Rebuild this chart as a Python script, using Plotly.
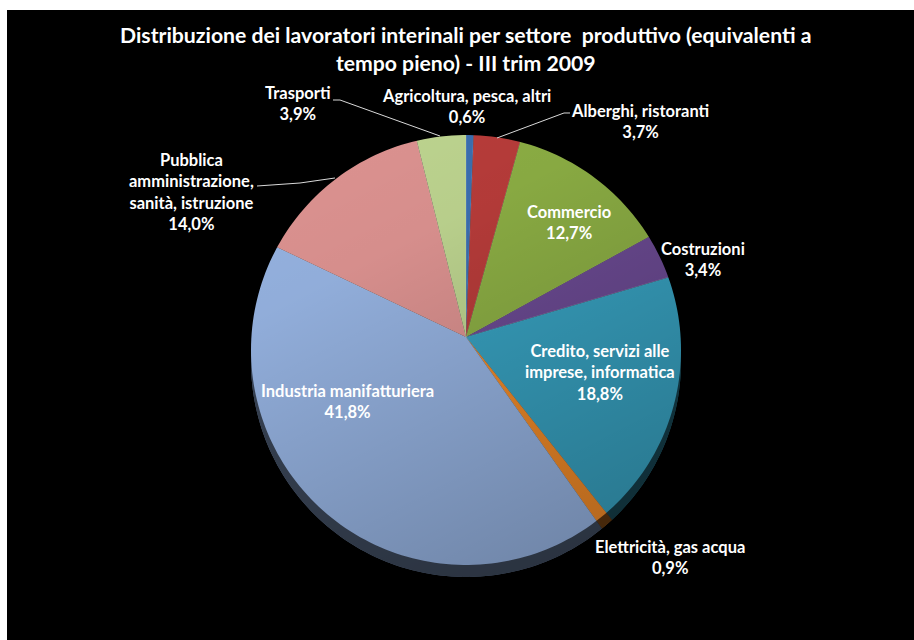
import base64
import numpy as np
import plotly.graph_objects as go

W, H = 914, 640

title_text = "Distribuzione dei lavoratori interinali per settore  produttivo (equivalenti a<br>tempo pieno) - III trim 2009"
categories = ["Agricoltura, pesca, altri", "Alberghi, ristoranti", "Commercio", "Costruzioni",
              "Credito, servizi alle imprese, informatica", "Elettricità, gas acqua",
              "Industria manifatturiera", "Pubblica amministrazione, sanità, istruzione", "Trasporti"]
values = [0.6, 3.7, 12.7, 3.4, 18.8, 0.9, 41.8, 14.0, 3.9]
value_labels = ["0,6%", "3,7%", "12,7%", "3,4%", "18,8%", "0,9%", "41,8%", "14,0%", "3,9%"]
label_lines = ["Agricoltura, pesca, altri", "Alberghi, ristoranti", "Commercio", "Costruzioni",
               "Credito, servizi alle<br>imprese, informatica", "Elettricità, gas acqua",
               "Industria manifatturiera", "Pubblica<br>amministrazione,<br>sanità, istruzione", "Trasporti"]
top_colors = ["#3b6fb0", "#b83c3a", "#8cae44", "#6b4a92", "#37a0bf", "#f08a28", "#95b2e0", "#dc9290", "#bdd48f"]

# label centres in pixels
label_px = [(467, 106), (640, 121), (569, 222), (703, 259), (600, 372), (670, 557), (347, 401), (191, 192), (298, 104)]
leaders = [[(570, 113), (564, 113), (497, 138)],
           [(257, 186), (300, 183), (335, 178)],
           [(333, 100), (340, 100), (440, 136)]]

# The pie's apex sits above the centre of the tilted disc outline (3D perspective)
apex_x, apex_y, pie_r = 466, 337, 241
cx, cy, r, depth = 466, 350, 215, 12


def px(x, y):
    return x / W, 1 - y / H


def arc(cx_, cy_, a0, a1, n=120):
    t = np.radians(np.linspace(a0, a1, n))
    return [px(cx_ + r * np.cos(a), cy_ + r * np.sin(a)) for a in t]


def path(pts):
    return "M" + " L".join(f"{x:.5f},{y:.5f}" for x, y in pts) + " Z"


fig = go.Figure()
fig.add_trace(go.Pie(values=values, labels=categories, sort=False, direction="clockwise", rotation=0,
                     textinfo="none", hoverinfo="label+percent", showlegend=False,
                     domain=dict(x=[(apex_x - pie_r) / W, (apex_x + pie_r) / W],
                                 y=[1 - (apex_y + pie_r) / H, 1 - (apex_y - pie_r) / H]),
                     marker=dict(colors=top_colors, line=dict(color="rgba(255,255,255,0.25)", width=0.4))))

# soft diagonal shading over the disc
svg = ('<svg xmlns="http://www.w3.org/2000/svg" width="100" height="100" preserveAspectRatio="none">'
       '<defs><linearGradient id="g" x1="0.1" y1="0" x2="0.6" y2="1">'
       '<stop offset="0" stop-color="#000" stop-opacity="0"/>'
       '<stop offset="0.3" stop-color="#000" stop-opacity="0.03"/>'
       '<stop offset="1" stop-color="#000" stop-opacity="0.24"/>'
       '</linearGradient></defs><rect width="100" height="100" fill="url(#g)"/></svg>')
ix, iy = px(cx - r, cy - r)
fig.add_layout_image(source="data:image/svg+xml;base64," + base64.b64encode(svg.encode()).decode(),
                     xref="paper", yref="paper", x=ix, y=iy,
                     sizex=2 * r / W, sizey=(2 * r + depth) / H, xanchor="left", yanchor="top",
                     sizing="stretch", layer="above")

# background, mask outside the disc, and the dark rim of the disc
outline = arc(cx, cy, 180, 360) + arc(cx, cy + depth, 0, 180)
frame = [px(7, 10), px(W, 10), px(W, H), px(7, H)]
rim = arc(cx, cy + depth, 0, 180) + arc(cx, cy, 180, 0)
shapes = [dict(type="rect", xref="paper", yref="paper", x0=7 / W, x1=1, y0=0, y1=1 - 10 / H,
               fillcolor="black", line=dict(width=0), layer="below"),
          dict(type="path", xref="paper", yref="paper", path=path(frame) + " " + path(outline),
               fillcolor="black", line=dict(width=0), layer="above"),
          dict(type="path", xref="paper", yref="paper", path=path(rim),
               fillcolor="rgba(0,0,0,0.62)", line=dict(width=0), layer="above")]
for seg in leaders:
    shapes.append(dict(type="path", xref="paper", yref="paper",
                       path="M" + " L".join("{:.5f},{:.5f}".format(*px(x, y)) for x, y in seg),
                       line=dict(color="#d9d9d9", width=1), layer="above"))

font = dict(family="Lato", color="white", size=16.5)
annotations = [dict(text=f"<b>{t}<br>{v}</b>", x=lx / W, y=1 - ly / H, xref="paper", yref="paper",
                    xanchor="center", yanchor="middle", showarrow=False, font=font, align="center")
               for t, v, (lx, ly) in zip(label_lines, value_labels, label_px)]
annotations.append(dict(text=f"<b>{title_text}</b>", x=465 / W, y=1 - 49 / H, xref="paper", yref="paper",
                        xanchor="center", yanchor="middle", showarrow=False, align="center",
                        font=dict(family="Lato", color="white", size=21.2)))

fig.update_layout(width=W, height=H, margin=dict(l=0, r=0, t=0, b=0), paper_bgcolor="white",
                  shapes=shapes, annotations=annotations)
fig.write_html("out.html", config=dict(displayModeBar=False),
               post_script="document.body.style.margin='0';document.body.style.overflow='hidden';")
